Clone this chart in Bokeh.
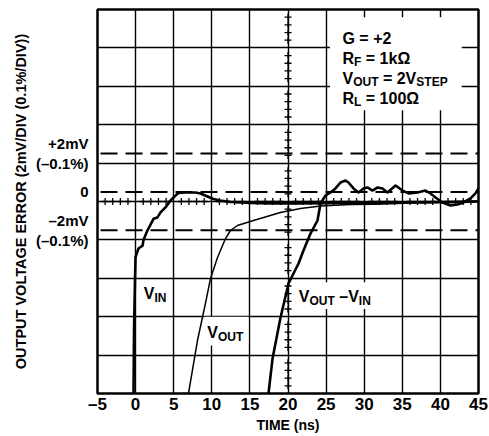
from bokeh.plotting import figure
from bokeh.models import Label, Span, BoxAnnotation, FixedTicker, Range1d, Title
from bokeh.embed import file_html
from bokeh.resources import INLINE

# ---------------- data (time in ns, error in mV) ----------------
vin_t = [-0.28, -0.21, -0.08, -0.01, 0.38, 0.91, 1.04, 1.56, 1.96, 2.35, 2.87, 3.27,
         3.92, 4.58, 5.24, 5.63, 6.55, 7.86, 8.52, 9.44, 10.22, 11.14, 12.45, 15.08,
         17.7, 21.6, 28.2, 34.8, 41.3, 45.0]
vin_v = [-10.9, -7.2, -4.6, -3.4, -2.95, -2.8, -2.5, -2.0, -1.7, -1.4, -1.33, -1.07,
         -0.81, -0.45, -0.19, -0.06, -0.03, -0.03, -0.08, -0.24, -0.37, -0.45, -0.53, -0.58,
         -0.6, -0.6, -0.58, -0.55, -0.53, -0.5]

vout_t = [6.68, 6.94, 8.12, 9.17, 9.83, 10.75, 11.8, 12.45, 13.37, 15.47, 19.0, 21.64,
          24.27, 28.2, 31.5, 36.1, 40.0, 45.0]
vout_v = [-10.9, -10.5, -7.74, -5.81, -4.51, -3.42, -2.43, -2.01, -1.75, -1.49, -1.07, -0.86,
          -0.73, -0.66, -0.64, -0.58, -0.54, -0.48]

err_t = [17.3, 17.44, 17.97, 19.02, 20.07, 21.38, 22.03, 22.95, 23.87, 24.27, 24.92, 25.58,
         26.23, 26.89, 27.55, 27.94, 28.6, 29.25, 29.91, 30.43, 31.09, 31.75, 32.4, 33.06,
         34.11, 35.03, 35.81, 37.0, 38.04, 38.7, 39.36, 40.28, 41.33, 42.24, 43.03, 43.95,
         44.6, 45.0]
err_v = [-10.9, -10.5, -8.68, -6.54, -4.77, -3.73, -3.05, -2.17, -1.49, -0.6, -0.19, -0.03,
         0.18, 0.49, 0.59, 0.49, 0.18, -0.03, 0.18, 0.23, 0.07, 0.23, 0.18, -0.03,
         0.33, 0.07, -0.08, -0.03, 0.07, -0.08, -0.29, -0.55, -0.71, -0.66, -0.55, -0.34,
         -0.08, 0.18]

x_ticks = [-5, 0, 5, 10, 15, 20, 25, 30, 35, 40, 45]
x_tick_labels = {-5: "\u20135"}
y_ticks = [2, 0, -2]
y_tick_labels = {2: "+2mV\n(\u20130.1%)", 0: "0", -2: "\u20132mV\n(\u20130.1%)"}
ref_levels = [2, 0, -2]          # dashed reference lines (mV)
center_t = 20                    # center graticule (ns)
center_v = -0.5                  # center graticule (mV)

FONT = "Liberation Sans"

p = figure(width=489, height=436, x_range=Range1d(-5, 45), y_range=Range1d(-10.5, 9.5),
           output_backend="svg", toolbar_location=None,
           min_border_left=97, min_border_right=11, min_border_top=9, min_border_bottom=43)
p.background_fill_color = "white"
p.border_fill_color = "white"
p.outline_line_color = "black"
p.outline_line_width = 2.5

# graticule
p.xgrid.ticker = FixedTicker(ticks=[0, 5, 10, 15, 20, 25, 30, 35, 40])
p.ygrid.ticker = FixedTicker(ticks=[-8.5, -6.5, -4.5, -2.5, -0.5, 1.5, 3.5, 5.5, 7.5])
for g in (p.xgrid, p.ygrid):
    g.grid_line_color = "black"
    g.grid_line_width = 1.4
    g.grid_line_alpha = 1.0


def style_axis(ax):
    ax.major_tick_out = 0
    ax.major_tick_in = 0
    ax.minor_tick_out = 0
    ax.minor_tick_in = 0
    ax.axis_line_color = None
    ax.major_label_text_font = FONT
    ax.major_label_text_font_style = "bold"
    ax.major_label_text_color = "black"
    ax.axis_label_text_font = FONT
    ax.axis_label_text_font_style = "bold"
    ax.axis_label_text_color = "black"


xa = p.xaxis[0]
style_axis(xa)
xa.ticker = FixedTicker(ticks=x_ticks)
xa.major_label_overrides = x_tick_labels
xa.major_label_standoff = 1
xa.major_label_text_font_size = "17px"
xa.axis_label = "TIME (ns)"
xa.axis_label_text_font_size = "14px"
xa.axis_label_standoff = 0

ya = p.yaxis[0]
style_axis(ya)
ya.ticker = FixedTicker(ticks=y_ticks)
ya.major_label_overrides = y_tick_labels
ya.major_label_standoff = 9
ya.major_label_text_font_size = "15px"

p.add_layout(Title(text="OUTPUT VOLTAGE ERROR (2mV/DIV (0.1%/DIV))", align="center",
                   offset=16, standoff=7, text_font=FONT, text_font_style="bold",
                   text_font_size="14.5px", text_color="black"), "left")

# minor ticks on center graticule lines
mx = [t for t in range(-4, 45) if t % 5 != 0]
p.scatter(mx, [center_v] * len(mx), marker="cross", size=7, line_color="black", line_width=1.3)
my = [center_v + 0.4 * k for k in range(-25, 26) if k % 5 != 0]
p.scatter([center_t] * len(my), my, marker="cross", size=7, line_color="black", line_width=1.3)

# curves
p.line(vin_t, vin_v, line_color="black", line_width=2.6, line_join="round")
p.line(vout_t, vout_v, line_color="black", line_width=1.5, line_join="round")
p.line(err_t, err_v, line_color="black", line_width=2.6, line_join="round")

# dashed reference lines
for lv in ref_levels:
    p.add_layout(Span(location=lv, dimension="width", line_color="black",
                      line_width=2, line_dash="17 8", line_dash_offset=-3))

# white boxes behind annotation texts
p.add_layout(BoxAnnotation(left=25.5, right=42.8, bottom=4.25, top=9.1,
                           fill_color="white", fill_alpha=1, line_color=None))
p.add_layout(BoxAnnotation(left=9.0, right=14.8, bottom=-8.0, top=-6.5,
                           fill_color="white", fill_alpha=1, line_color=None))
p.add_layout(BoxAnnotation(left=21.1, right=31.3, bottom=-6.1, top=-4.7,
                           fill_color="white", fill_alpha=1, line_color=None))

W = {' ': .278, '(': .333, ')': .333, '+': .584, '\u2013': .556, '.': .278, '/': .278,
     '%': .889, '=': .584, '\u03a9': .768, 'k': .556, 'm': .889, 'n': .611, 's': .556,
     'A': .722, 'D': .722, 'E': .667, 'F': .611, 'G': .778, 'I': .278, 'L': .611, 'N': .722,
     'O': .778, 'P': .667, 'R': .722, 'S': .667, 'T': .611, 'U': .722, 'V': .667}
for d in "0123456789":
    W[d] = .556


def tw(s, fs):
    return sum(W.get(c, .6) for c in s) * fs


def rich(x, y, parts, fs=16, sfs=12, drop=4):
    off = 0.0
    for text, sub in parts:
        size = sfs if sub else fs
        stripped = text.lstrip(" ")
        off += tw(text[:len(text) - len(stripped)], size)
        p.add_layout(Label(x=x, y=y, x_offset=off, y_offset=-drop if sub else 0, text=stripped,
                           text_font=FONT, text_font_style="bold", text_font_size=f"{size}px",
                           text_color="black", text_align="left", text_baseline="alphabetic"))
        off += tw(stripped, size)


# condition block
rich(27.15, 8.0, [("G = +2", False)])
rich(27.15, 6.96, [("R", False), ("F", True), (" = 1k\u03a9", False)])
rich(27.15, 5.92, [("V", False), ("OUT", True), (" = 2V", False), ("STEP", True)])
rich(27.15, 4.88, [("R", False), ("L", True), (" = 100\u03a9", False)])

# curve labels
rich(1.08, -5.3, [("V", False), ("IN", True)])
rich(9.4, -7.34, [("V", False), ("OUT", True)])
rich(21.42, -5.45, [("V", False), ("OUT", True), (" \u2013V", False), ("IN", True)])

open("out.html", "w").write(file_html(p, INLINE))
